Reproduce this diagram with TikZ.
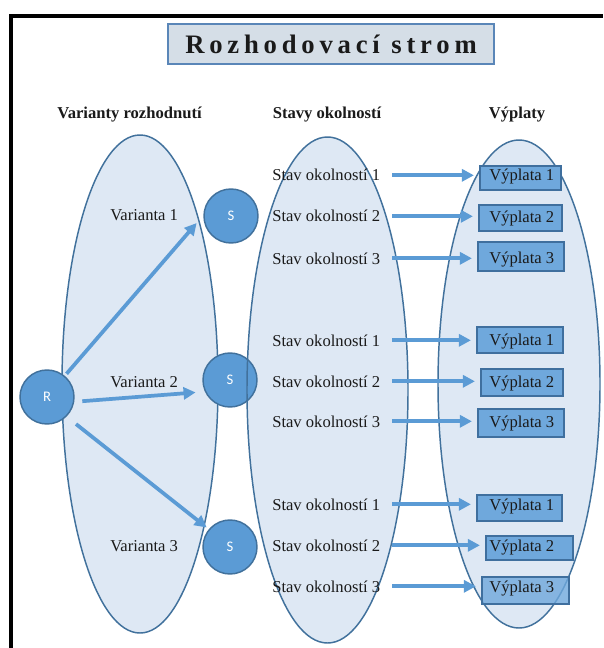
\documentclass[tikz,border=0pt]{standalone}
\usepackage{fontspec}
\setmainfont{Liberation Serif}
\newfontfamily\titlefont[LetterSpace=18]{Liberation Serif}
\newfontfamily\circfont{Carlito}
\usetikzlibrary{arrows.meta}
\definecolor{ellfill}{HTML}{DEE8F4}
\definecolor{ellline}{HTML}{41719C}
\definecolor{circfill}{HTML}{5B9BD5}
\definecolor{arrowc}{HTML}{5B9BD5}
\definecolor{boxfill}{HTML}{6FA8DC}
\definecolor{boxline}{HTML}{3F6F9E}
\definecolor{titlefill}{HTML}{D5DEE7}
\definecolor{titleline}{HTML}{5A86B8}
\definecolor{textc}{HTML}{1A1A1A}
\begin{document}
\begin{tikzpicture}[x=0.75pt,y=-0.75pt,
  ell/.style={draw=ellline, line width=1.1pt, fill=ellfill},
  ellline/.style={draw=ellline, line width=1.1pt},
  circ/.style={circle, draw=ellline, line width=1.1pt, fill=circfill, minimum size=40.5pt, inner sep=0pt, text=white, font=\circfont\fontsize{11}{13}\selectfont},
  arr/.style={draw=arrowc, line width=2.8pt, -{Triangle[length=9pt,width=9pt]}},
  vbox/.style={draw=boxline, line width=1.1pt, fill=boxfill, inner sep=0pt},
  txt/.style={font=\fontsize{12.45}{14}\selectfont, text=textc, inner sep=0pt, anchor=base west},
  hdr/.style={font=\bfseries\fontsize{12.45}{14}\selectfont, text=textc, inner sep=0pt, anchor=base}
]
\useasboundingbox (0,0) rectangle (603,648);
\fill[white] (0,0) rectangle (603,648);
% frame
\draw[line width=3pt, line join=miter] (11,648) -- (11,16) -- (603,16);
% title
\node[draw=titleline, line width=1.1pt, fill=titlefill, minimum width=244.5pt, minimum height=30pt, inner sep=0pt,
      font=\titlefont\bfseries\fontsize{20}{23}\selectfont, text=textc] (title) at (331,44) {Rozhodovací strom};
% headers
\node[hdr] (h1) at (129.5,119) {Varianty rozhodnutí};
\node[hdr] (h2) at (327,119) {Stavy okolností};
\node[hdr] (h3) at (517,119) {Výplaty};
% ellipse fills
\path[ell] (140,384) ellipse [x radius=78, y radius=249];
\path[fill=ellfill] (327.5,390) ellipse [x radius=80.5, y radius=253];
\path[ell] (519,384) ellipse [x radius=81, y radius=244];
% circles
\node[circ] (R) at (47,397) {R};
\node[circ] (S1) at (231,216) {S};
\node[circ] (S2) at (230,380) {S};
\node[circ] (S3) at (230,547) {S};
\path[ellline] (327.5,390) ellipse [x radius=80.5, y radius=253];
% variant labels
\node[txt] (v1) at (110,221) {Varianta 1};
\node[txt] (v2) at (110,387) {Varianta 2};
\node[txt] (v3) at (110,551) {Varianta 3};
% states
\node[txt] (s11) at (272,181) {Stav okolností 1};
\node[txt] (s12) at (272,222) {Stav okolností 2};
\node[txt] (s13) at (272,264) {Stav okolností 3};
\node[txt] (s21) at (272,346) {Stav okolností 1};
\node[txt] (s22) at (272,387) {Stav okolností 2};
\node[txt] (s23) at (272,427) {Stav okolností 3};
\node[txt] (s31) at (272,510) {Stav okolností 1};
\node[txt] (s32) at (272,551) {Stav okolností 2};
\node[txt] (s33) at (272,592) {Stav okolností 3};
% payoff boxes
\node[vbox, minimum width=60.75pt, minimum height=18pt] (b11) at (520.5,178) {};
\node[vbox, minimum width=62.25pt, minimum height=19.5pt] (b12) at (520.5,218) {};
\node[vbox, minimum width=64.5pt, minimum height=21.75pt] (b13) at (521,256.5) {};
\node[vbox, minimum width=64.5pt, minimum height=19.5pt] (b21) at (520,340) {};
\node[vbox, minimum width=61.5pt, minimum height=20.25pt] (b22) at (522,382.5) {};
\node[vbox, minimum width=64.5pt, minimum height=21pt] (b23) at (521,423) {};
\node[vbox, minimum width=63.75pt, minimum height=19.5pt] (b31) at (519.5,508) {};
\node[vbox, minimum width=65.25pt, minimum height=18pt] (b32) at (529.5,548) {};
\node[vbox, minimum width=65.25pt, minimum height=20.25pt, fill opacity=0.8] (b33) at (525.5,590.5) {};
\node[txt] (p11) at (489,181) {Výplata 1};
\node[txt] (p12) at (489,223) {Výplata 2};
\node[txt] (p13) at (489,263) {Výplata 3};
\node[txt] (p21) at (489,345) {Výplata 1};
\node[txt] (p22) at (489,387) {Výplata 2};
\node[txt] (p23) at (489,427) {Výplata 3};
\node[txt] (p31) at (489,510) {Výplata 1};
\node[txt] (p32) at (489,551) {Výplata 2};
\node[txt] (p33) at (489,592) {Výplata 3};
% arrows from R
\draw[arr, shorten <=2pt, shorten >=3pt] (R.50) -- ([shift={(-4,4)}]S1.west);
\draw[arr, shorten <=6pt, shorten >=7pt] (R.-10) -- (S2.205);
\draw[arr, shorten <=9pt, shorten >=2pt] (R.-45) -- (S3.140);
% arrows to payoffs
\foreach \g in {1,2,3}{
  \foreach \k in {1,2,3}{
    \draw[arr, shorten >=4pt] ([xshift=9pt]s\g\k.east) -- (s\g\k.east -| b\g\k.west);
  }
}
\end{tikzpicture}
\end{document}
